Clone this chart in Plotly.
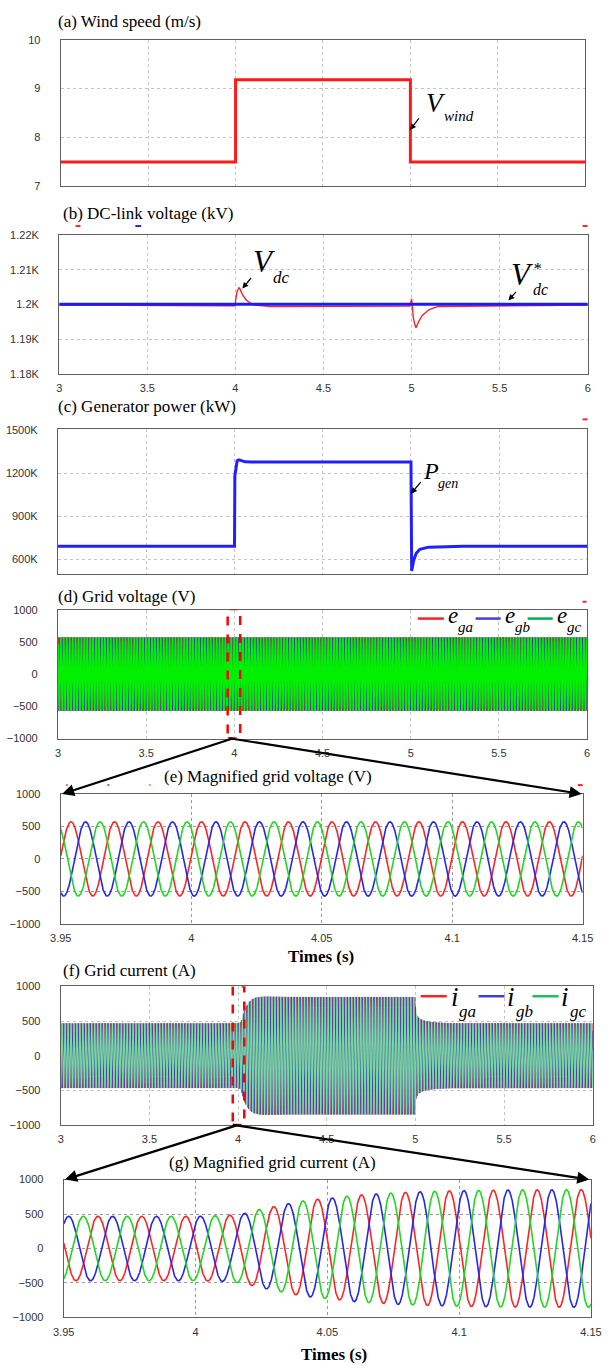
import numpy as np
import plotly.graph_objects as go

W, H = 610, 1368

# ---------------- data ----------------
# (a) wind speed (m/s)
wind_t = [3.0, 4.0, 4.0, 5.0, 5.0, 6.0]
wind_v = [7.5, 7.5, 9.18, 9.18, 7.5, 7.5]

# (b) DC-link voltage (V)
vdc_t = [3.0, 3.998, 4.002, 4.01, 4.02, 4.025, 4.04, 4.06, 4.08, 4.11, 4.2, 4.99,
         5.0, 5.003, 5.01, 5.02, 5.025, 5.04, 5.06, 5.1, 5.15, 6.0]
vdc_v = [1199.8, 1199.6, 1201.5, 1203.8, 1204.8, 1204.5, 1202.8, 1201.3, 1200.5, 1199.8,
         1199.4, 1199.5, 1201.6, 1199.5, 1196.0, 1193.8, 1193.3, 1195.0, 1196.8, 1198.5,
         1199.4, 1199.8]
vdc_ref_t = [3.0, 6.0]
vdc_ref_v = [1200.0, 1200.0]

# (c) generator power (kW, shown as K)
pgen_t = [3.0, 4.0, 4.002, 4.008, 4.015, 4.025, 4.04, 4.06, 4.1, 5.0,
          5.004, 5.015, 5.03, 5.05, 5.1, 5.2, 5.3, 6.0]
pgen_v = [690, 690, 1180, 1250, 1285, 1292, 1285, 1278, 1276, 1276,
          517, 590, 640, 668, 683, 688, 690, 690]

# grid voltage / current parameters
grid_freq = 60.0
egrid_amp = 572.0
egrid_phase_deg = 5.0
igrid_phase_deg = 170.0
ig_env_t = [3.0, 4.0, 4.012, 4.018, 4.024, 4.03, 4.035, 4.04, 4.046, 4.051, 4.057, 4.061,
            4.072, 4.078, 4.09, 4.1, 4.12, 4.15, 4.3, 5.0, 5.002, 5.01, 5.02, 5.04,
            5.07, 5.12, 5.2, 6.0]
ig_env_a = [468, 468, 480, 505, 565, 610, 650, 688, 715, 730, 758, 775,
            800, 815, 830, 840, 850, 855, 850, 850, 640, 580, 545, 515,
            495, 480, 470, 468]

# tick labels
x_ticks_long = [3, 3.5, 4, 4.5, 5, 5.5, 6]
x_ticks_short = [3.95, 4.0, 4.05, 4.1, 4.15]
x_ticktext_short = ['3.95', '4', '4.05', '4.1', '4.15']
wind_ticks = [7, 8, 9, 10]
vdc_ticks = [1180, 1190, 1200, 1210, 1220]
vdc_ticktext = ['1.18K', '1.19K', '1.2K', '1.21K', '1.22K']
pgen_ticks = [600, 900, 1200, 1500]
pgen_ticktext = ['600K', '900K', '1200K', '1500K']
ac_ticks = [-1000, -500, 0, 500, 1000]

# ---------------- waveforms ----------------
def three_phase(t, amp, phase_deg):
    th = 2 * np.pi * grid_freq * t + np.deg2rad(phase_deg)
    return (amp * np.sin(th), amp * np.sin(th - 2 * np.pi / 3), amp * np.sin(th + 2 * np.pi / 3))

t_long = np.linspace(3.0, 6.0, 3 * 60 * 24 + 1)
t_short = np.linspace(3.95, 4.15, 2401)

e_long = three_phase(t_long, egrid_amp, egrid_phase_deg)
e_short = three_phase(t_short, egrid_amp, egrid_phase_deg)
i_long = three_phase(t_long, np.interp(t_long, ig_env_t, ig_env_a), igrid_phase_deg)
i_short = three_phase(t_short, np.interp(t_short, ig_env_t, ig_env_a), igrid_phase_deg)

# ---------------- figure ----------------
fig = go.Figure()

TICKFONT = dict(family='Liberation Sans Narrow, Arial Narrow, Liberation Sans, Arial', size=11, color='#333333')

def dx(l, r):
    return [l / W, r / W]

def dy(t, b):
    return [1 - b / H, 1 - t / H]

def axis_common(grid='#c4c4c4'):
    return dict(showline=True, linecolor='#5f5f5f', linewidth=1.3, mirror=True, ticks='',
                showgrid=True, gridcolor=grid, griddash='dot', gridwidth=1, zeroline=False,
                tickfont=TICKFONT, fixedrange=True)

panels = [
    ('a', (51.6, 595.7), (34, 182), [3, 6], [7, 10], x_ticks_long, None, False, wind_ticks, None, '#c4c4c4'),
    ('b', (50, 598.4), (231, 371), [3, 6], [1180, 1220], x_ticks_long, None, True, vdc_ticks, vdc_ticktext, '#c4c4c4'),
    ('c', (48.8, 598), (427, 573), [3, 6], [496, 1505], x_ticks_long, None, False, pgen_ticks, pgen_ticktext, '#c4c4c4'),
    ('d', (48.8, 597.6), (609, 739), [3, 6], [-1000, 1000], x_ticks_long, None, True, ac_ticks, None, '#c4c4c4'),
    ('e', (51.6, 593), (795, 926), [3.95, 4.15], [-1000, 1000], x_ticks_short, x_ticktext_short, True, ac_ticks, None, '#9a9a9a'),
    ('f', (51.6, 603.5), (989, 1129), [3, 6], [-1000, 1000], x_ticks_long, None, True, ac_ticks, None, '#c4c4c4'),
    ('g', (54.7, 601.6), (1184, 1323), [3.95, 4.15], [-1000, 1000], x_ticks_short, x_ticktext_short, True, ac_ticks, None, '#9a9a9a'),
]

layout_axes = {}
axref = {}
for k, (name, (l, r), (t, b), xr, yr, xt, xtt, showx, yt, ytt, gc) in enumerate(panels):
    n = k + 1
    xa = 'xaxis' if n == 1 else f'xaxis{n}'
    ya = 'yaxis' if n == 1 else f'yaxis{n}'
    xid = 'x' if n == 1 else f'x{n}'
    yid = 'y' if n == 1 else f'y{n}'
    axref[name] = (xid, yid)
    xd = axis_common(gc)
    xd.update(domain=dx(l, r), range=xr, anchor=yid, tickvals=xt, showticklabels=showx,
              ticklabelstandoff=4)
    if xtt is not None:
        xd['ticktext'] = xtt
    yd = axis_common(gc)
    yd.update(domain=dy(t, b), range=yr, anchor=xid, tickvals=yt, ticklabelstandoff=17)
    if ytt is not None:
        yd['ticktext'] = ytt
    layout_axes[xa] = xd
    layout_axes[ya] = yd

def add(name, x, y, color, width, opacity=1.0):
    xid, yid = axref[name]
    fig.add_trace(go.Scatter(x=x, y=y, mode='lines', xaxis=xid, yaxis=yid,
                             line=dict(color=color, width=width), opacity=opacity,
                             showlegend=False, hoverinfo='skip'))

RED, BLUE, GREEN = '#ff2424', '#2626f0', '#1fd81f'

add('a', wind_t, wind_v, '#ff1a1a', 3)
add('b', vdc_t, vdc_v, '#ff2020', 1.4)
add('b', vdc_ref_t, vdc_ref_v, '#1a1aff', 3)
add('c', pgen_t, pgen_v, '#2020ff', 3)

add('d', t_long, e_long[0], '#e02020', 1)
add('d', t_long, e_long[1], '#2a2ad8', 1)
add('d', t_long, e_long[2], '#00f000', 1.7)

add('e', t_short, e_short[0], RED, 1.6)
add('e', t_short, e_short[1], BLUE, 1.6)
add('e', t_short, e_short[2], GREEN, 1.6)

add('f', t_long, i_long[0], '#c83030', 1, 0.9)
add('f', t_long, i_long[1], '#3535c0', 1, 0.9)
add('f', t_long, i_long[2], '#72e6a2', 1.2, 0.9)

add('g', t_short, i_short[0], RED, 1.6)
add('g', t_short, i_short[1], BLUE, 1.6)
add('g', t_short, i_short[2], GREEN, 1.6)

# ---------------- annotations ----------------
ann = []
shapes = []
SERIF = 'Liberation Serif, Times New Roman, serif'

def txt(x, y, s, size, xanchor='left', yanchor='middle', family=SERIF, color='black', align='left'):
    ann.append(dict(x=x / W, y=1 - y / H, xref='paper', yref='paper', text=s, showarrow=False,
                    xanchor=xanchor, yanchor=yanchor, borderpad=0, align=align,
                    font=dict(family=family, size=size, color=color)))

def arrow(hx, hy, tx, ty, width=2.0, head=2, size=1.0):
    ann.append(dict(x=hx / W, y=1 - hy / H, xref='paper', yref='paper', ax=tx - hx, ay=ty - hy,
                    axref='pixel', ayref='pixel', text='', showarrow=True, arrowhead=head,
                    arrowsize=size, arrowwidth=width, arrowcolor='black', standoff=0))

def pline(x0, y0, x1, y1, color, width=2.5, dash='solid'):
    shapes.append(dict(type='line', xref='paper', yref='paper', x0=x0 / W, x1=x1 / W,
                       y0=1 - y0 / H, y1=1 - y1 / H, line=dict(color=color, width=width, dash=dash)))

# panel titles
txt(48, 16, '(a) Wind speed (m/s)', 17)
txt(53, 209, '(b) DC-link voltage (kV)', 17)
txt(48, 404, '(c) Generator power (kW)', 17)
txt(48, 596, '(d) Grid voltage (V)', 17)
txt(158, 777, '(e) Magnified grid voltage (V)', 17)
txt(53, 973, '(f) Grid current (A)', 17)
txt(163, 1167, '(g) Magnified grid current (A)', 17)
txt(322, 959, '<b>Times (s)</b>', 17, xanchor='center')
txt(335, 1360, '<b>Times (s)</b>', 17, xanchor='center')

# signal labels (main letter + subscript placed side by side)
txt(430, 98, '<i>V</i>', 27)
txt(448, 111, '<i>wind</i>', 15)
arrow(414, 125, 424, 112, width=1.2, head=2, size=1.0)

txt(250, 258, '<i>V</i>', 31)
txt(271, 274, '<i>dc</i>', 17)
arrow(240, 285, 250, 273, width=1.2, head=2, size=1.0)

txt(518, 271, '<i>V</i>', 31)
txt(541, 275, '<i>*</i><br><i>dc</i>', 16, align='left')
arrow(516, 297, 525, 287, width=1.2, head=2, size=1.0)

txt(426, 469, '<i>P</i>', 24)
txt(442, 482, '<i>gen</i>', 14)
arrow(415, 492, 426, 479, width=1.2, head=2, size=1.0)

# legend of (d)
pline(422, 618, 449, 618, '#ff2020')
pline(482, 618, 508, 618, '#4040e0')
pline(536, 618, 562, 618, '#00b050')
for ex, sx, s in [(452, 463, 'ga'), (511, 522, 'gb'), (565, 576, 'gc')]:
    txt(ex, 615, '<i>e</i>', 23)
    txt(sx, 626, '<i>' + s + '</i>', 15)

# legend of (f)
pline(425, 999, 452, 999, '#ff2020')
pline(485, 999, 512, 999, '#4040e0')
pline(541, 999, 568, 999, '#20c060')
for ix, sx, s in [(455, 464, 'ga'), (514, 523, 'gb'), (570, 579, 'gc')]:
    txt(ix, 1000, '<i>i</i>', 27)
    txt(sx, 1014, '<i>' + s + '</i>', 17)

# zoom rectangles
xd_, yd_ = axref['d']
shapes.append(dict(type='rect', xref=xd_, yref=yd_, x0=3.962, x1=4.033, y0=-1000, y1=1010,
                   line=dict(color='#ff0000', width=2.5, dash='dash'), fillcolor='rgba(0,0,0,0)'))
xf_, yf_ = axref['f']
shapes.append(dict(type='rect', xref=xf_, yref=yf_, x0=3.97, x1=4.035, y0=-1000, y1=1000,
                   line=dict(color='#ff0000', width=2.5, dash='dash'), fillcolor='rgba(0,0,0,0)'))

# zoom connector arrows
arrow(53, 795, 225, 739, width=2.2, head=2, size=1.1)
arrow(592, 795, 238, 739, width=2.2, head=2, size=1.1)
arrow(56, 1184, 230, 1129, width=2.2, head=2, size=1.1)
arrow(600, 1184, 242, 1129, width=2.2, head=2, size=1.1)

# small marks (residual legend ticks in the original plots)
for (x0, x1, y, c) in [(67, 72, 222, '#ff2020'), (129, 135, 222, '#2020ff'), (593, 598, 222, '#ff2020'),
                       (593, 598, 417, '#ff2020'), (593, 597, 601, '#ff2020'),
                       (57, 59, 786, '#ff6060'), (100, 102, 786, '#6060ff'), (143, 145, 786, '#60e060'),
                       (588, 593, 786, '#ff2020')]:
    pline(x0, y, x1, y, c, width=2)

fig.update_layout(width=W, height=H, margin=dict(l=0, r=0, t=0, b=0),
                  paper_bgcolor='white', plot_bgcolor='white', showlegend=False,
                  annotations=ann, shapes=shapes, **layout_axes)

fig.write_html('out.html')
